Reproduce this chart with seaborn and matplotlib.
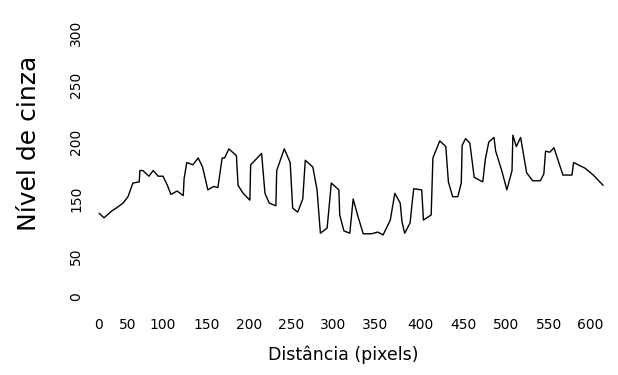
import numpy as np
import pandas as pd
import matplotlib
matplotlib.use("Agg")
import matplotlib.pyplot as plt
import seaborn as sns

# perfil de nivel de cinza (distancia em pixels, nivel de cinza)
distancia = [2, 10, 23, 33, 42, 50, 57, 66, 67, 71, 80, 86, 93, 100, 105, 109, 116, 123,
             124, 127, 134, 140, 145, 151, 158, 163, 168, 171, 176, 185, 187, 193, 201, 202,
             215, 219, 224, 232, 233, 242, 249, 252, 258, 264, 267, 276, 281, 285, 293, 298,
             307, 308, 313, 320, 324, 330, 336, 346, 353, 359, 367, 372, 378, 380, 383, 389,
             391, 393, 402, 404, 413, 415, 423, 430, 433, 438, 444, 448, 449, 453, 458, 463,
             473, 476, 480, 486, 488, 495, 501, 507, 508, 512, 517, 524, 531, 540, 544, 546,
             551, 556, 567, 578, 580, 594, 604, 616]
nivel = [125, 117, 129, 136, 143, 152, 164, 165, 175, 175, 170, 175, 170, 170, 162, 154, 157, 153,
         168, 182, 180, 186, 178, 158, 161, 160, 186, 186, 194, 188, 162, 155, 148, 180,
         190, 155, 143, 138, 175, 194, 182, 134, 127, 150, 184, 178, 158, 90, 99, 164,
         158, 122, 94, 90, 150, 118, 89, 89, 92, 87, 113, 155, 143, 110, 90, 108,
         139, 159, 158, 113, 122, 186, 201, 196, 165, 152, 152, 164, 197, 203, 199, 169,
         165, 185, 200, 204, 192, 175, 158, 175, 206, 196, 204, 173, 166, 166, 172, 192,
         191, 195, 171, 171, 182, 177, 171, 162]

xticks = [0, 50, 100, 150, 200, 250, 300, 350, 400, 450, 500, 550, 600]
xtick_labels = [str(v) for v in xticks]
yticks = [0, 50, 150, 200, 250, 300]
ytick_labels = [str(v) for v in yticks]

# eixos da figura digitalizada nao sao lineares: posicao (px) de cada rotulo
x_anchor_val = [-200, 0, 50, 100, 150, 200, 250, 300, 350, 400, 450, 500, 550, 600, 900]
x_anchor_px = [-22, 98, 128, 163, 207, 249, 291, 333, 375, 420, 463, 506, 549, 590, 836]
y_anchor_val = [-200, 0, 50, 150, 200, 250, 300, 600]
y_anchor_px = [461, 297, 256, 199, 142, 85, 33, -291]

xv, xp = np.array(x_anchor_val, float), np.array(x_anchor_px, float)
yv, yp = np.array(y_anchor_val, float), -np.array(y_anchor_px, float)

def fx(v):
    return np.interp(v, xv, xp)

def ifx(p):
    return np.interp(p, xp, xv)

def fy(v):
    return np.interp(v, yv, yp)

def ify(p):
    return np.interp(p, yp, yv)

df = pd.DataFrame({"Distância": distancia, "Nível": nivel})

sns.set_style("white")
plt.rcParams["font.family"] = ["DejaVu Sans"]

fig = plt.figure(figsize=(6.18, 3.75), dpi=100)
ax = fig.add_axes([86 / 618, (375 - 312) / 375, 526 / 618, 292 / 375])
ax.set_xscale("function", functions=(fx, ifx))
ax.set_yscale("function", functions=(fy, ify))

sns.lineplot(data=df, x="Distância", y="Nível", sort=False, color="black",
             linewidth=1.0, ax=ax)

ax.set_xlim(ifx(86), ifx(612))
ax.set_ylim(ify(-312), ify(-20))
ax.set_xticks(xticks, xtick_labels)
ax.set_yticks(yticks, ytick_labels)
ax.tick_params(axis="both", length=0, labelsize=10, colors="black")
ax.tick_params(axis="x", pad=4)
ax.tick_params(axis="y", pad=2, labelrotation=90)
for lab in ax.get_yticklabels():
    lab.set_va("center")
for s in ax.spines.values():
    s.set_visible(False)

ax.set_xlabel("Distância (pixels)", fontsize=12.5, color="black")
ax.set_ylabel("Nível de cinza", fontsize=18, color="black")
ax.xaxis.set_label_coords((343 - 86) / 526, (312 - 346) / 292)
ax.yaxis.set_label_coords((41 - 86) / 526, (312 - 143) / 292)

fig.savefig("out.png", dpi=100)
